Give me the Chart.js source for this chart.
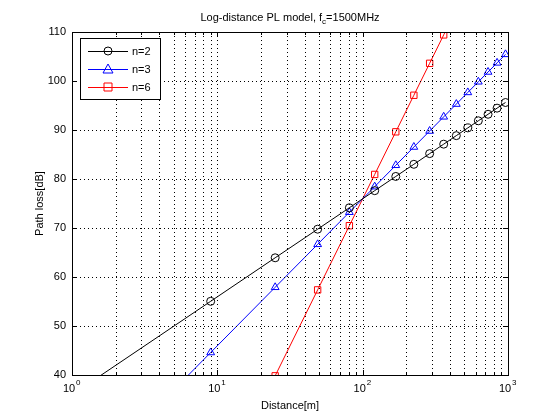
<!DOCTYPE html><html><head><meta charset="utf-8">
<script src="https://cdn.jsdelivr.net/npm/chart.js@4/dist/chart.umd.min.js"></script>
<style>html,body{margin:0;background:#fff}#w{position:relative;width:560px;height:420px}</style></head>
<body><div id="w"><canvas id="c" width="560" height="420"></canvas></div>
<script>
const distances=[1,9,25,49,81,121,169,225,289,361,441,529,625,729,841,961];
const lossN2=[35.96,55.04,63.92,69.76,74.13,77.62,80.52,83.00,85.18,87.11,88.85,90.43,91.88,93.21,94.46,95.61];
const lossN3=[15.96,44.59,57.90,66.67,73.22,78.44,82.80,86.53,89.79,92.69,95.29,97.67,99.84,101.84,103.70,105.44];
const lossN6=[-44.04,13.21,39.83,57.37,70.47,80.93,89.63,97.09,103.61,109.41,114.62,119.37,123.71,127.72,131.45,134.92];
const xTicks=[1,10,100,1000];
const yTicks=[40,50,60,70,80,90,100,110];
const seriesNames=['n=2','n=3','n=6'];
const colors=['#000000','#0000ff','#ff0000'];
const styles=['circle','triangle','rect'];
const F='"Liberation Sans", Arial, sans-serif';
const mk=(a)=>distances.map((d,i)=>({x:d,y:a[i]}));
const ds=[lossN2,lossN3,lossN6].map((a,i)=>({label:seriesNames[i],data:mk(a),borderColor:colors[i],backgroundColor:'rgba(0,0,0,0)',borderWidth:1,pointStyle:styles[i],pointRadius:i==0?4:4.5,pointBorderWidth:1,tension:0,clip:0}));
const minorTicks=[];for(let e=0;e<3;e++)for(let k=1;k<10;k++)minorTicks.push(k*Math.pow(10,e));minorTicks.push(1000);
const deco={id:'deco',afterDraw(ch){const c=ch.ctx,a=ch.chartArea,x=ch.scales.x,y=ch.scales.y;c.save();
c.strokeStyle='#000';c.lineWidth=1;c.setLineDash([1,3]);
minorTicks.forEach(v=>{const p=Math.round(x.getPixelForValue(v))+0.5;if(p<=a.left+1||p>=a.right-1)return;c.beginPath();c.moveTo(p,a.top);c.lineTo(p,a.bottom);c.stroke();});
yTicks.forEach(v=>{const p=Math.round(y.getPixelForValue(v))+0.5;if(p<=a.top+1||p>=a.bottom-1)return;c.beginPath();c.moveTo(a.left,p);c.lineTo(a.right,p);c.stroke();});
c.setLineDash([]);c.strokeRect(a.left+0.5,a.top+0.5,a.right-a.left,a.bottom-a.top);
c.beginPath();minorTicks.forEach(v=>{const p=Math.round(x.getPixelForValue(v))+0.5;const L=xTicks.includes(v)?5:3;c.moveTo(p,a.bottom);c.lineTo(p,a.bottom-L);c.moveTo(p,a.top);c.lineTo(p,a.top+L);});
yTicks.forEach(v=>{const p=Math.round(y.getPixelForValue(v))+0.5;c.moveTo(a.left,p);c.lineTo(a.left+5,p);c.moveTo(a.right,p);c.lineTo(a.right-5,p);});c.stroke();
c.fillStyle='#000';c.font='11px '+F;c.textBaseline='middle';c.textAlign='right';
yTicks.forEach(v=>c.fillText(String(v),a.left-6,y.getPixelForValue(v)));
xTicks.forEach((v,i)=>{const p=x.getPixelForValue(v);c.font='11px '+F;c.textAlign='center';c.fillText('10',p-3,a.bottom+14);c.font='8px '+F;c.textAlign='left';c.fillText(String(i),p+4,a.bottom+8);});
c.font='11px '+F;c.textAlign='center';c.fillText('Distance[m]',(a.left+a.right)/2,a.bottom+31);
c.save();c.translate(a.left-32,(a.top+a.bottom)/2);c.rotate(-Math.PI/2);c.fillText('Path loss[dB]',0,0);c.restore();
const t1='Log-distance PL model, f';c.font='11px '+F;const w1=c.measureText(t1).width;c.font='8px '+F;const w2=c.measureText('c').width;c.font='11px '+F;const w3=c.measureText('=1500MHz').width;
let sx=(a.left+a.right)/2-(w1+w2+w3)/2;c.textAlign='left';c.fillText(t1,sx,a.top-14);c.font='8px '+F;c.fillText('c',sx+w1,a.top-10);c.font='11px '+F;c.fillText('=1500MHz',sx+w1+w2,a.top-14);
const lx=80,ly=38;c.fillStyle='#fff';c.fillRect(lx,ly,80,61);c.strokeRect(lx+0.5,ly+0.5,80,61);
seriesNames.forEach((n,i)=>{const yy=ly+13+i*18;c.strokeStyle=colors[i];c.beginPath();c.moveTo(lx+8,yy+0.5);c.lineTo(lx+48,yy+0.5);c.stroke();
c.beginPath();if(i==0){c.arc(lx+28,yy,4,0,2*Math.PI);}else if(i==1){c.moveTo(lx+28,yy-5);c.lineTo(lx+33,yy+4);c.lineTo(lx+23,yy+4);c.closePath();}else{c.rect(lx+24,yy-4,8,8);}c.stroke();
c.fillStyle='#000';c.textAlign='left';c.fillText(n,lx+52,yy+1);});
c.restore();}};
new Chart(document.getElementById('c'),{type:'line',data:{datasets:ds},plugins:[deco],options:{responsive:false,animation:false,
layout:{padding:{left:72,right:52,top:32,bottom:45}},
plugins:{legend:{display:false},title:{display:false},tooltip:{enabled:false}},
scales:{x:{type:'logarithmic',min:1,max:1000,display:false},y:{type:'linear',min:40,max:110,display:false}}}});
</script></body></html>
